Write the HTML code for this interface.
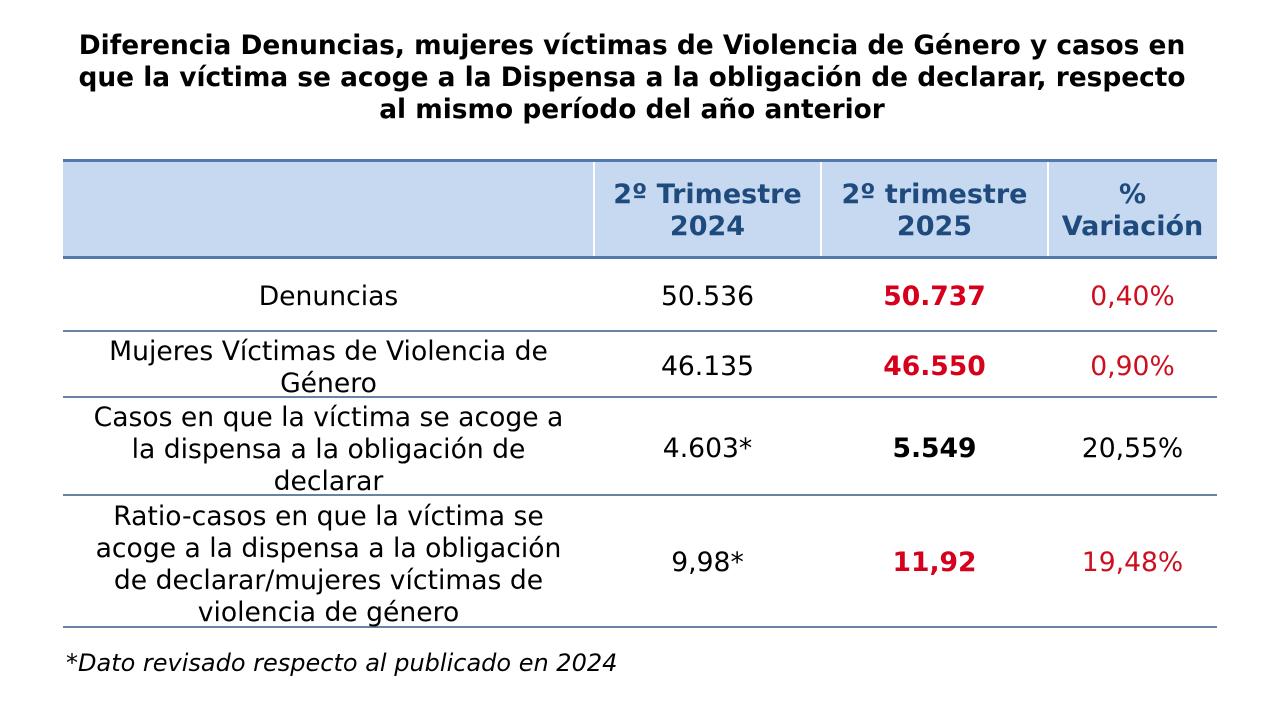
<!DOCTYPE html>
<html>
<head>
<meta charset="utf-8">
<style>
  html,body{margin:0;padding:0;background:#fff;}
  body{width:1264px;height:704px;position:relative;overflow:hidden;
       font-family:"DejaVu Sans","Liberation Sans",sans-serif;color:#000;}
  .title{position:absolute;left:0;top:30px;width:1264px;text-align:center;
         font-weight:bold;font-size:26.4px;line-height:32px;color:#000;white-space:nowrap;}
  .hdr{position:absolute;left:63px;top:160px;width:1154px;height:97px;background:#c6d9f0;}
  .line{position:absolute;left:63px;width:1154px;height:2px;background:#6a83a3;}
  .hline{position:absolute;left:63px;width:1154px;height:3px;background:#5279ad;}
  .vdiv{position:absolute;top:162px;width:2px;height:94px;background:#fff;}
  .cell{position:absolute;display:flex;align-items:center;justify-content:center;
        text-align:center;font-size:26.6px;line-height:32px;white-space:nowrap;}
  .h{font-weight:bold;color:#1f4a7e;font-size:27px;}
  .b{font-weight:bold;}
  .red{color:#d6001c;}
  .redr{color:#cc1020;}
  .foot{position:absolute;left:66px;top:647px;font-size:24px;line-height:32px;white-space:nowrap;}
  .foot i{font-style:oblique;}
</style>
</head>
<body>
<div class="title">Diferencia Denuncias, mujeres víctimas de Violencia de Género y casos en<br>que la víctima se acoge a la Dispensa a la obligación de declarar, respecto<br>al mismo período del año anterior</div>

<div class="hdr"></div>
<div class="hline" style="top:159px"></div>
<div class="hline" style="top:256px"></div>
<div class="vdiv" style="left:593px"></div>
<div class="vdiv" style="left:820px"></div>
<div class="vdiv" style="left:1047px"></div>

<div class="cell h" style="left:594px;top:164px;width:227px;height:94px;">2º Trimestre<br>2024</div>
<div class="cell h" style="left:821px;top:164px;width:227px;height:94px;">2º trimestre<br>2025</div>
<div class="cell h" style="left:1048px;top:164px;width:169px;height:94px;">%<br>Variación</div>

<div class="line" style="top:330px"></div>
<div class="line" style="top:396px"></div>
<div class="line" style="top:494px"></div>
<div class="line" style="top:626px"></div>

<!-- Row 1 -->
<div class="cell" style="left:63px;top:261px;width:531px;height:72px;">Denuncias</div>
<div class="cell" style="left:594px;top:261px;width:227px;height:72px;">50.536</div>
<div class="cell b red" style="left:821px;top:261px;width:227px;height:72px;">50.737</div>
<div class="cell redr" style="left:1048px;top:261px;width:169px;height:72px;">0,40%</div>

<!-- Row 2 -->
<div class="cell" style="left:63px;top:336px;width:531px;height:64px;">Mujeres Víctimas de Violencia de<br>Género</div>
<div class="cell" style="left:594px;top:335px;width:227px;height:64px;">46.135</div>
<div class="cell b red" style="left:821px;top:335px;width:227px;height:64px;">46.550</div>
<div class="cell redr" style="left:1048px;top:335px;width:169px;height:64px;">0,90%</div>

<!-- Row 3 -->
<div class="cell" style="left:63px;top:402px;width:531px;height:96px;">Casos en que la víctima se acoge a<br>la dispensa a la obligación de<br>declarar</div>
<div class="cell" style="left:594px;top:401px;width:227px;height:96px;">4.603*</div>
<div class="cell b" style="left:821px;top:401px;width:227px;height:96px;">5.549</div>
<div class="cell" style="left:1048px;top:401px;width:169px;height:96px;">20,55%</div>

<!-- Row 4 -->
<div class="cell" style="left:63px;top:501px;width:531px;height:128px;">Ratio-casos en que la víctima se<br>acoge a la dispensa a la obligación<br>de declarar/mujeres víctimas de<br>violencia de género</div>
<div class="cell" style="left:594px;top:498px;width:227px;height:129px;">9,98*</div>
<div class="cell b red" style="left:821px;top:498px;width:227px;height:129px;">11,92</div>
<div class="cell redr" style="left:1048px;top:498px;width:169px;height:129px;">19,48%</div>

<div class="foot">*<i>Dato revisado respecto al publicado en 2024</i></div>
</body>
</html>
